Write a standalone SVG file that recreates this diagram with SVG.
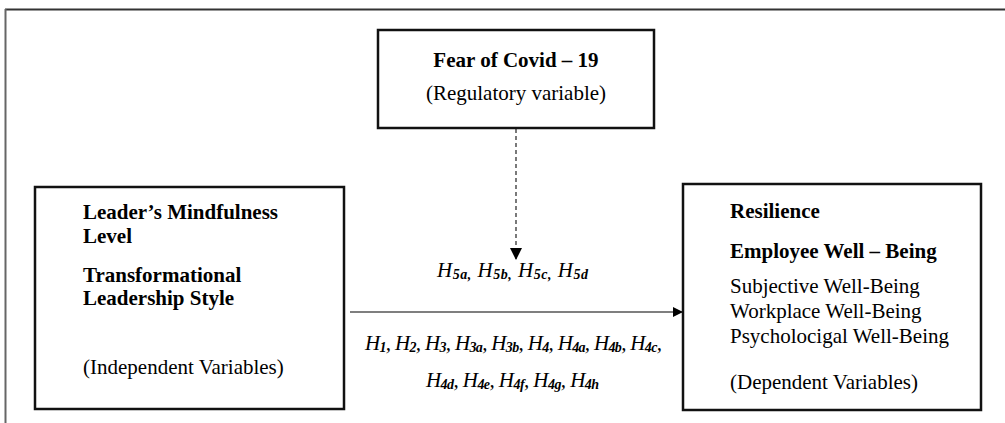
<svg xmlns="http://www.w3.org/2000/svg" width="1005" height="423" viewBox="0 0 1005 423">
<style>
text { font-family: "Liberation Serif", "Times New Roman", serif; fill: #000; }
.b { font-weight: bold; font-size: 21px; }
.r { font-size: 21px; }
.h { font-style: italic; font-size: 21px; }
.s { font-size: 14px; font-weight: bold; }
.box { fill: #fff; stroke: #111; stroke-width: 2.5; }
</style>
<defs>
<marker id="ah" viewBox="0 0 10 10" refX="10" refY="5" markerWidth="10" markerHeight="10" markerUnits="userSpaceOnUse" orient="auto">
<path d="M0,0 L10,5 L0,10 Z" fill="#000"/>
</marker>
<marker id="ahd" viewBox="0 0 12 12" refX="12" refY="6" markerWidth="12" markerHeight="12" markerUnits="userSpaceOnUse" orient="auto">
<path d="M0,0 L12,6 L0,12 Z" fill="#000"/>
</marker>
</defs>
<g id="frame">
<line x1="5" y1="9.5" x2="1005" y2="9.5" stroke="#333" stroke-width="2"/>
<line x1="5.5" y1="9" x2="5.5" y2="423" stroke="#666" stroke-width="2"/>
</g>
<g id="connectors">
<line x1="350" y1="312" x2="683" y2="312" stroke="#555" stroke-width="1.5" marker-end="url(#ah)"/>
<line x1="516" y1="129" x2="516" y2="260" stroke="#333" stroke-width="1.3" stroke-dasharray="4,3" marker-end="url(#ahd)"/>
</g>
<g id="fear">
<rect class="box" x="378" y="30" width="276" height="98"/>
<text class="b" x="516" y="67" text-anchor="middle">Fear of Covid – 19</text>
<text class="r" x="516" y="100" text-anchor="middle">(Regulatory variable)</text>
</g>
<g id="independent">
<rect class="box" x="35" y="187" width="309" height="222"/>
<text class="b" x="83" y="219">Leader’s Mindfulness</text>
<text class="b" x="83" y="243">Level</text>
<text class="b" x="83" y="282">Transformational</text>
<text class="b" x="83" y="305">Leadership Style</text>
<text class="r" x="83" y="374">(Independent Variables)</text>
</g>
<g id="dependent">
<rect class="box" x="683" y="184" width="298" height="226"/>
<text class="b" x="730" y="218">Resilience</text>
<text class="b" x="730" y="258">Employee Well – Being</text>
<text class="r" x="730" y="293">Subjective Well-Being</text>
<text class="r" x="730" y="318">Workplace Well-Being</text>
<text class="r" x="730" y="343">Psycholocigal Well-Being</text>
<text class="r" x="730" y="389">(Dependent Variables)</text>
</g>
<g id="labels">
<text class="h" x="437" y="277" textLength="151" lengthAdjust="spacing">H<tspan class="s" dy="2">5a,</tspan><tspan dy="-2"> H</tspan><tspan class="s" dy="2">5b,</tspan><tspan dy="-2"> H</tspan><tspan class="s" dy="2">5c,</tspan><tspan dy="-2"> H</tspan><tspan class="s" dy="2">5d</tspan></text>
<text class="h" x="365" y="350" textLength="297" lengthAdjust="spacing">H<tspan class="s" dy="2">1</tspan><tspan dy="-2">, H</tspan><tspan class="s" dy="2">2</tspan><tspan dy="-2">, H</tspan><tspan class="s" dy="2">3</tspan><tspan dy="-2">, H</tspan><tspan class="s" dy="2">3a</tspan><tspan dy="-2">, H</tspan><tspan class="s" dy="2">3b</tspan><tspan dy="-2">, H</tspan><tspan class="s" dy="2">4</tspan><tspan dy="-2">, H</tspan><tspan class="s" dy="2">4a</tspan><tspan dy="-2">, H</tspan><tspan class="s" dy="2">4b</tspan><tspan dy="-2">, H</tspan><tspan class="s" dy="2">4c</tspan><tspan dy="-2">,</tspan></text>
<text class="h" x="426" y="387" textLength="173" lengthAdjust="spacing">H<tspan class="s" dy="2">4d</tspan><tspan dy="-2">, H</tspan><tspan class="s" dy="2">4e</tspan><tspan dy="-2">, H</tspan><tspan class="s" dy="2">4f</tspan><tspan dy="-2">, H</tspan><tspan class="s" dy="2">4g</tspan><tspan dy="-2">, H</tspan><tspan class="s" dy="2">4h</tspan></text>
</g>
</svg>
